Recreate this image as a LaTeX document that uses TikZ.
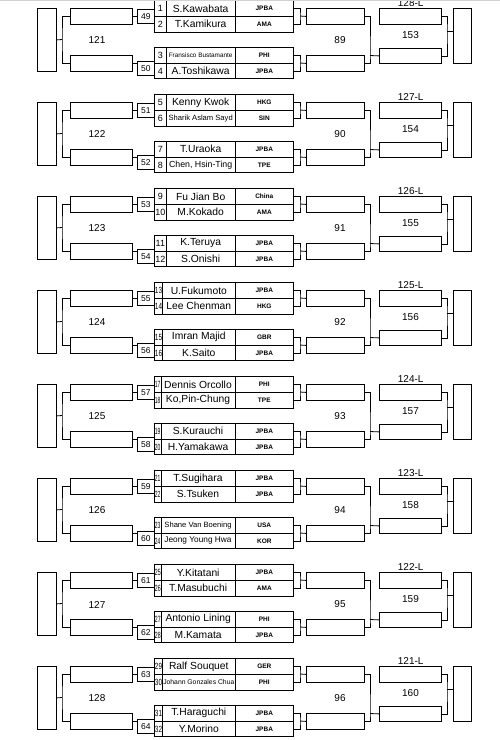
\documentclass[tikz,border=0pt]{standalone}
\usepackage{fontspec}
\setmainfont{Liberation Sans}
\begin{document}
\begin{tikzpicture}[x=1pt,y=-1pt,line width=0.8pt,
    box/.style={draw,rectangle,inner sep=0pt,anchor=north west},
    cell/.style={box,minimum height=15.7pt},
    lbl/.style={font=\fontsize{10}{10}\selectfont}]
  \useasboundingbox (0,0) rectangle (500,740);
  \clip (0,0) rectangle (500,740);
  % draw table of players
  \foreach \i/\nm/\cc/\fs in {
      1/S.Kawabata/JPBA/10.3, 2/T.Kamikura/AMA/10.3,
      3/Fransisco Bustamante/PHI/6.4, 4/A.Toshikawa/JPBA/10.3,
      5/Kenny Kwok/HKG/10.3, 6/Sharik Aslam Sayd/SIN/7.6,
      7/T.Uraoka/JPBA/10.3, 8/{Chen, Hsin-Ting}/TPE/8.8,
      9/Fu Jian Bo/China/10.3, 10/M.Kokado/AMA/10.3,
      11/K.Teruya/JPBA/10.3, 12/S.Onishi/JPBA/10.3,
      13/U.Fukumoto/JPBA/10.3, 14/Lee Chenman/HKG/10.3,
      15/Imran Majid/GBR/10.3, 16/K.Saito/JPBA/10.3,
      17/Dennis Orcollo/PHI/10.3, 18/{Ko,Pin-Chung}/TPE/10.3,
      19/S.Kurauchi/JPBA/10.3, 20/H.Yamakawa/JPBA/10.3,
      21/T.Sugihara/JPBA/10.3, 22/S.Tsuken/JPBA/10.3,
      23/Shane Van Boening/USA/7.6, 24/Jeong Young Hwa/KOR/8.3,
      25/Y.Kitatani/JPBA/10.3, 26/T.Masubuchi/AMA/10.3,
      27/Antonio Lining/PHI/10.3, 28/M.Kamata/JPBA/10.3,
      29/Ralf Souquet/GER/10.3, 30/Johann Gonzales Chua/PHI/6.8,
      31/T.Haraguchi/JPBA/10.3, 32/Y.Morino/JPBA/10.3}{
    \pgfmathtruncatemacro\bk{(\i-1)/4}
    \pgfmathtruncatemacro\rw{mod(\i-1,4)}
    \pgfmathsetmacro\yt{94*\bk+{0.3,16,47,62.7}[\rw]}
    \pgfmathsetmacro\xs{{12,12,12,8.3,6.7,6.7,7,8.3}[\bk]}
    \pgfmathsetmacro\sx{min(1,(\xs-1.2)/10)}
    \pgfmathsetmacro\wn{234.5-154-\xs}
    \node[cell,minimum width=\xs pt] (s\i) at (154,\yt)
      {\fontsize{9}{9}\selectfont\scalebox{\sx}[1]{\i}};
    \node[cell,minimum width=\wn pt] (n\i) at (154+\xs,\yt)
      {\fontsize{\fs}{\fs}\selectfont\nm};
    \node[cell,minimum width=58.8pt] (c\i) at (234.5,\yt)
      {\fontsize{6.5}{6.5}\selectfont\bfseries\cc};
  }
  % one block of the bracket per four players
  \foreach \k/\lt/\md/\rt in {0/121/89/153, 1/122/90/154, 2/123/91/155,
      3/124/92/156, 4/125/93/157, 5/126/94/158, 6/127/95/159, 7/128/96/160}{
    \begin{scope}[shift={(0,94*\k)}]
      \pgfmathtruncatemacro\na{49+2*\k}
      \pgfmathtruncatemacro\nb{50+2*\k}
      \pgfmathtruncatemacro\tl{128-\k}
      \pgfmathtruncatemacro\pa{4*\k+1}
      \pgfmathtruncatemacro\pb{4*\k+2}
      \pgfmathtruncatemacro\pc{4*\k+3}
      \pgfmathtruncatemacro\pd{4*\k+4}
      \node[box,minimum width=19pt,minimum height=63pt] (L\k) at (37,8) {};
      \node[box,minimum width=62pt,minimum height=16pt] (A\k) at (70,8) {};
      \node[box,minimum width=62pt,minimum height=16pt] (B\k) at (70,55) {};
      \node[box,minimum width=17pt,minimum height=13.5pt] (N\na) at (137,9)
        {\fontsize{8.5}{8.5}\selectfont\na};
      \node[box,minimum width=17pt,minimum height=13.5pt] (N\nb) at (137,61)
        {\fontsize{8.5}{8.5}\selectfont\nb};
      \node[box,minimum width=58pt,minimum height=16pt] (C\k) at (306,8) {};
      \node[box,minimum width=58pt,minimum height=16pt] (D\k) at (306,55) {};
      \node[box,minimum width=62pt,minimum height=16pt] (E\k) at (379,8) {};
      \node[box,minimum width=62pt,minimum height=15.6pt] (F\k) at (379,47.7) {};
      \node[box,minimum width=18pt,minimum height=55.3pt] (G\k) at (453,8) {};
      \node[lbl] (lt\k) at (97,40.5) {\lt};
      \node[lbl] (md\k) at (340,40.5) {\md};
      \node[lbl] (rt\k) at (410.5,35.5) {\rt};
      \node[lbl] (tl\k) at (410.7,2.7) {\tl-L};
      \coordinate (jl\k) at (62,39.5);
      \coordinate (ja\k) at (300,16);
      \coordinate (jb\k) at (300,63);
      \coordinate (jm\k) at (370,55.5);
      \coordinate (jg\k) at (447,31.5);
      \draw (L\k.east) -- (jl\k);
      \draw (A\k.west) -| (jl\k) |- (B\k.west);
      \draw (A\k.east) -- (A\k.east -| N\na.west);
      \draw (B\k.east) -- (B\k.east -| N\nb.west);
      \draw (c\pa.east) -| (ja\k) |- (c\pb.east);
      \draw (ja\k) -- (C\k.west);
      \draw (c\pc.east) -| (jb\k) |- (c\pd.east);
      \draw (jb\k) -- (D\k.west);
      \draw (C\k.east) -| (jm\k) |- (D\k.east);
      \draw (jm\k) -- (F\k.west);
      \draw (E\k.east) -| (jg\k) |- (F\k.east);
      \draw (jg\k) -- (jg\k -| G\k.west);
    \end{scope}
  }
  \draw[gray!35,line width=1.5pt] (0,0.5) -- (500,0.5);
\end{tikzpicture}
\end{document}
